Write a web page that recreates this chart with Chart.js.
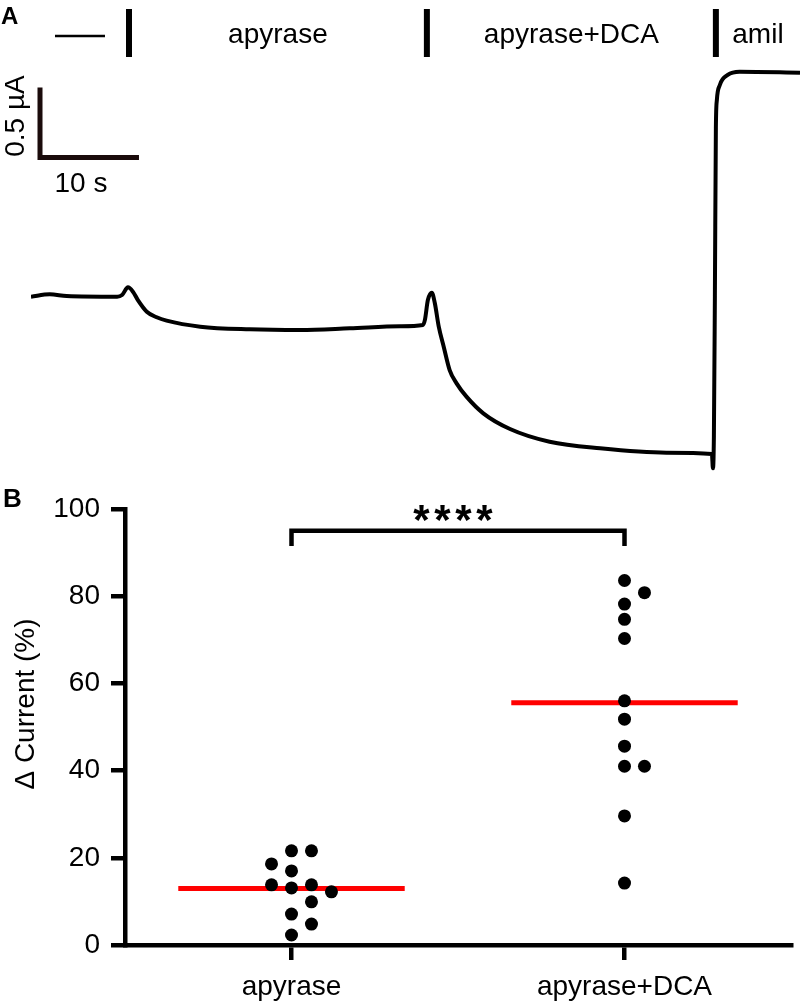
<!DOCTYPE html>
<html>
<head>
<meta charset="utf-8">
<script src="https://cdn.jsdelivr.net/npm/chart.js@4/dist/chart.umd.min.js"></script>
<style>
  body { margin: 0; background: #fff; }
  canvas { position: absolute; left: 0; }
  #js--trace { top: 0; }
  #js--scatter { top: 480px; }
</style>
</head>
<body>
<canvas id="js--trace" width="800" height="480"></canvas>
<canvas id="js--scatter" width="800" height="523"></canvas>
<script>
// panel A: current trace (time in s, current in µA relative to start)
const traceTime = [0, 1.9, 3.6, 8.7, 9.2, 9.8, 10.3, 10.8, 11.7, 12.7, 13.7, 17.1, 22.1, 27.2, 32.2, 37.3, 39.6, 39.8, 40.1, 40.5, 40.8, 41.2, 41.7, 42.3, 43.0, 44.0, 45.7, 48.4, 52.4, 57.5, 64.2, 68.8, 68.9, 69.0, 69.1, 69.2, 69.3, 69.6, 70.4, 71.6, 77.7];
const traceCurrent = [-0.005, 0.012, 0.0, -0.005, 0.007, 0.062, 0.031, -0.029, -0.112, -0.152, -0.176, -0.219, -0.238, -0.243, -0.231, -0.216, -0.207, -0.171, -0.029, 0.024, -0.05, -0.219, -0.362, -0.529, -0.624, -0.719, -0.838, -0.95, -1.041, -1.088, -1.119, -1.129, -1.231, -1.0, 0.0, 1.2, 1.4, 1.507, 1.579, 1.602, 1.595];
const eventTimes = [9.9, 40.0, 69.2];
const eventLabels = ["apyrase", "apyrase+DCA", "amil"];
const scaleBarCurrent = 0.5;
const scaleBarTime = 10;

// panel B: change in current per oocyte
const groups = ["apyrase", "apyrase+DCA"];
const apyraseValues = [21.6, 21.6, 18.6, 17.0, 13.8, 13.8, 13.1, 12.2, 9.9, 7.1, 4.8, 2.3];
const dcaValues = [83.6, 80.8, 78.2, 74.7, 70.3, 56.0, 51.8, 45.6, 41.0, 41.0, 29.6, 14.2];
const yTicks = [0, 20, 40, 60, 80, 100];
const significance = "****";

const FONT = '"Liberation Sans", Arial, Helvetica, sans-serif';

const mean = function (values) {
    return values.reduce((a, b) => a + b, 0) / values.length;
};

// simple beeswarm: put each dot in the first free column next to the centre
const swarm = function (values, center) {
    const placed = [];
    const minGap = 3.5;
    const step = 0.06;
    return values.map(function (v) {
        for (const k of [0, 1, -1, 2, -2, 3, -3]) {
            const hit = placed.some(p => p.k === k && Math.abs(p.v - v) < minGap);
            if (!hit) {
                placed.push({ k: k, v: v });
                return { x: center + k * step, y: v };
            }
        }
    });
};

const traceAnnotations = {
    id: "traceAnnotations",
    afterDraw(chart) {
        const ctx = chart.ctx;
        const x = chart.scales.x;
        const y = chart.scales.y;
        ctx.save();
        ctx.fillStyle = "#000";
        ctx.strokeStyle = "#000";

        // solution change markers
        ctx.lineWidth = 6;
        const edges = [x.getPixelForValue(0)];
        eventTimes.forEach(function (t) {
            const px = x.getPixelForValue(t);
            edges.push(px);
            ctx.beginPath();
            ctx.moveTo(px, 9);
            ctx.lineTo(px, 57);
            ctx.stroke();
        });
        edges.push(chart.chartArea.right);

        // dash for the control period
        const mid0 = (edges[0] + edges[1]) / 2;
        ctx.lineWidth = 2.5;
        ctx.beginPath();
        ctx.moveTo(mid0 - 25, 36);
        ctx.lineTo(mid0 + 25, 36);
        ctx.stroke();

        ctx.font = "28px " + FONT;
        ctx.textAlign = "center";
        ctx.textBaseline = "alphabetic";
        eventLabels.forEach(function (label, i) {
            ctx.fillText(label, (edges[i + 1] + edges[i + 2]) / 2, 43);
        });

        // scale bar
        const dx = x.getPixelForValue(scaleBarTime) - x.getPixelForValue(0);
        const dy = y.getPixelForValue(0) - y.getPixelForValue(scaleBarCurrent);
        ctx.strokeStyle = "#1a0b0b";
        ctx.lineWidth = 5;
        ctx.lineJoin = "miter";
        ctx.beginPath();
        ctx.moveTo(40, 157.5 - dy);
        ctx.lineTo(40, 157.5);
        ctx.lineTo(40 + dx, 157.5);
        ctx.stroke();

        ctx.fillText(scaleBarTime + " s", 81, 192);
        ctx.save();
        ctx.translate(16.5, 116);
        ctx.rotate(-Math.PI / 2);
        ctx.textBaseline = "middle";
        ctx.fillText(scaleBarCurrent + " µA", 0, 0);
        ctx.restore();

        ctx.font = "bold 24px " + FONT;
        ctx.textAlign = "left";
        ctx.fillText("A", 1, 24);
        ctx.restore();
    }
};

new Chart(document.getElementById("js--trace"), {
    type: "line",
    data: {
        datasets: [{
            data: traceTime.map((t, i) => ({ x: t, y: traceCurrent[i] })),
            borderColor: "#000",
            borderWidth: 4,
            pointRadius: 0,
            cubicInterpolationMode: "monotone",
            fill: false
        }]
    },
    options: {
        responsive: false,
        animation: false,
        devicePixelRatio: 1,
        layout: { padding: { left: 31, right: 0, top: 58, bottom: 2 } },
        scales: {
            x: { type: "linear", display: false, min: 0, max: 77.7 },
            y: { display: false, min: -1.3, max: 1.7 }
        },
        plugins: { legend: { display: false }, tooltip: { enabled: false } }
    },
    plugins: [traceAnnotations]
});

const scatterAnnotations = {
    id: "scatterAnnotations",
    afterDraw(chart) {
        const ctx = chart.ctx;
        const x = chart.scales.x;
        const y = chart.scales.y;
        ctx.save();
        ctx.fillStyle = "#000";
        ctx.strokeStyle = "#000";

        // significance bracket
        const x1 = x.getPixelForValue(1);
        const x2 = x.getPixelForValue(2);
        const top = y.getPixelForValue(95);
        const foot = y.getPixelForValue(91.5);
        ctx.lineWidth = 4.5;
        ctx.lineJoin = "miter";
        ctx.beginPath();
        ctx.moveTo(x1, foot);
        ctx.lineTo(x1, top);
        ctx.lineTo(x2, top);
        ctx.lineTo(x2, foot);
        ctx.stroke();

        ctx.font = "bold 42px " + FONT;
        ctx.textAlign = "center";
        ctx.textBaseline = "alphabetic";
        const m = ctx.measureText("*");
        const cy = y.getPixelForValue(99.1);
        const baseY = cy + (m.actualBoundingBoxAscent - m.actualBoundingBoxDescent) / 2;
        const pitch = 21;
        const cx = (x1 + x2) / 2 - 5;
        for (let i = 0; i < significance.length; i++) {
            ctx.fillText(significance[i], cx + (i - (significance.length - 1) / 2) * pitch, baseY);
        }

        // axis title
        ctx.font = "28px " + FONT;
        ctx.save();
        ctx.translate(26, 224);
        ctx.rotate(-Math.PI / 2);
        ctx.textBaseline = "middle";
        ctx.fillText("\u0394 Current (%)", 0, 0);
        ctx.restore();

        ctx.font = "bold 26px " + FONT;
        ctx.textAlign = "left";
        ctx.fillText("B", 3, 27);
        ctx.restore();
    }
};

const meanLine = function (values, center) {
    const m = mean(values);
    return {
        data: [{ x: center - 0.34, y: m }, { x: center + 0.34, y: m }],
        showLine: true,
        borderColor: "#ff0000",
        borderWidth: 5,
        pointRadius: 0,
        order: 2
    };
};

const dots = function (values, center) {
    return {
        data: swarm(values, center),
        pointRadius: 6.5,
        pointBackgroundColor: "#000",
        pointBorderWidth: 0,
        showLine: false,
        order: 1
    };
};

new Chart(document.getElementById("js--scatter"), {
    type: "scatter",
    data: {
        datasets: [
            meanLine(apyraseValues, 1),
            meanLine(dcaValues, 2),
            dots(apyraseValues, 1),
            dots(dcaValues, 2)
        ]
    },
    options: {
        responsive: false,
        animation: false,
        devicePixelRatio: 1,
        layout: { padding: { left: 0, right: 9, top: 29, bottom: 0 } },
        scales: {
            x: {
                type: "linear",
                min: 0.5,
                max: 2.5,
                afterBuildTicks: function (scale) {
                    scale.ticks = groups.map((g, i) => ({ value: i + 1 }));
                },
                afterFit: function (scale) { scale.height = 58; },
                ticks: {
                    autoSkip: false,
                    maxRotation: 0,
                    padding: 10,
                    color: "#000",
                    font: { family: FONT, size: 28 },
                    callback: function (value) { return groups[value - 1]; }
                },
                grid: { drawOnChartArea: false, drawTicks: true, tickLength: 15, lineWidth: 4.5, color: "#000" },
                border: { display: true, width: 4.5, color: "#000" }
            },
            y: {
                min: yTicks[0],
                max: yTicks[yTicks.length - 1],
                afterBuildTicks: function (scale) {
                    scale.ticks = yTicks.map(v => ({ value: v }));
                },
                afterFit: function (scale) { scale.width = 125; },
                ticks: {
                    padding: 11,
                    color: "#000",
                    font: { family: FONT, size: 28 }
                },
                grid: { drawOnChartArea: false, drawTicks: true, tickLength: 14, lineWidth: 4.5, color: "#000" },
                border: { display: true, width: 4.5, color: "#000" }
            }
        },
        plugins: { legend: { display: false }, tooltip: { enabled: false } }
    },
    plugins: [scatterAnnotations]
});
</script>
</body>
</html>
